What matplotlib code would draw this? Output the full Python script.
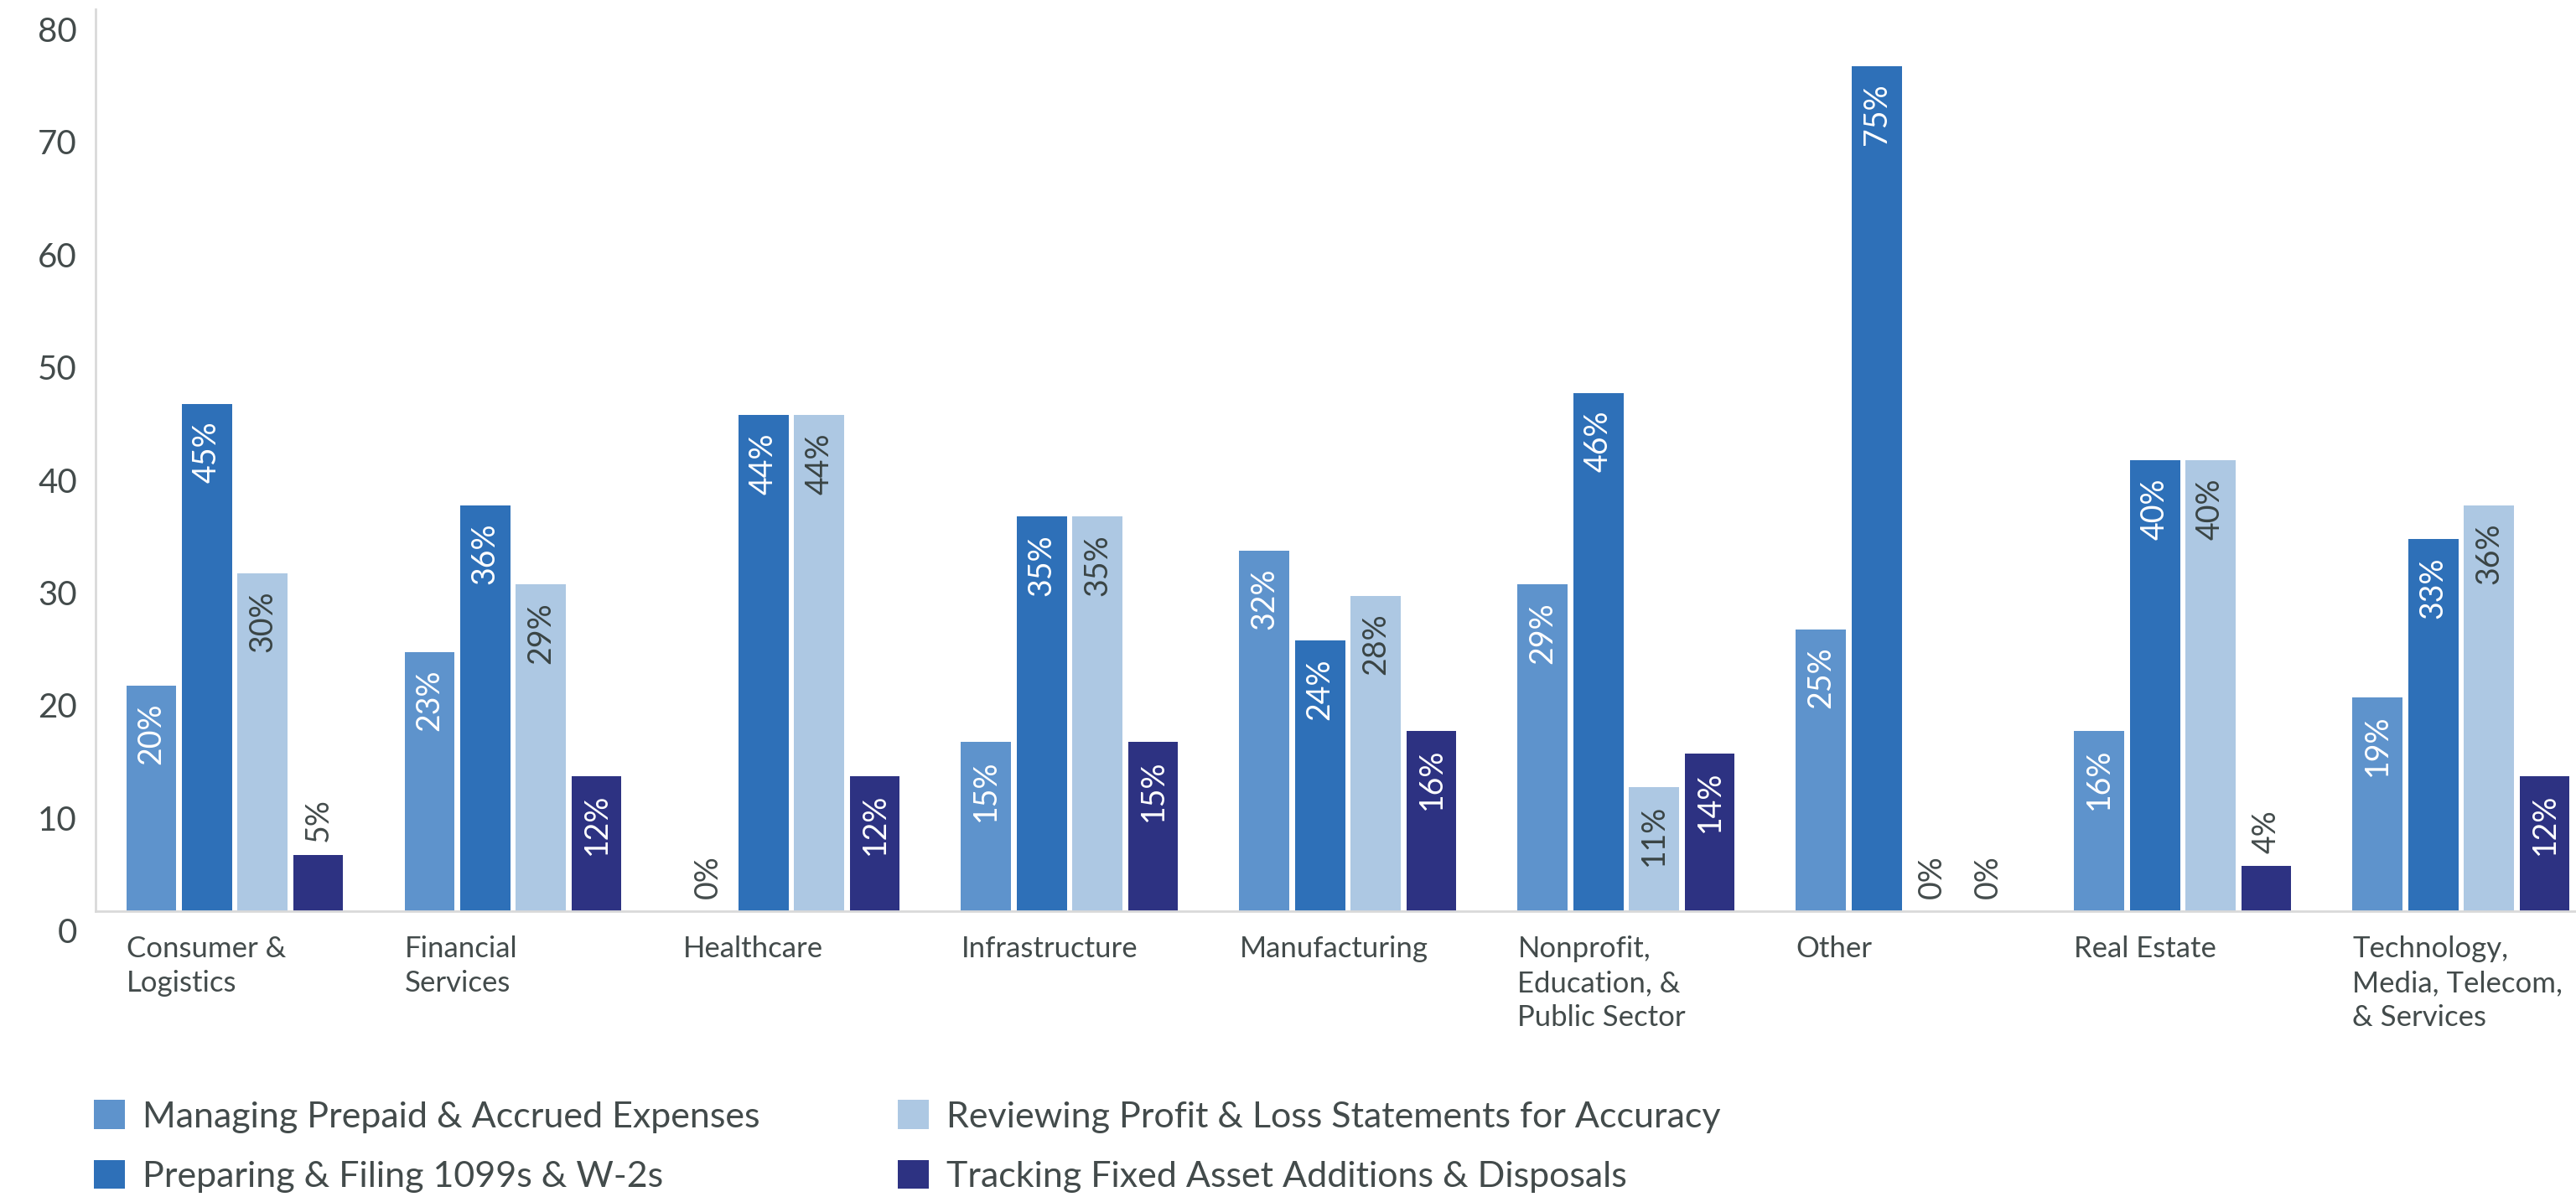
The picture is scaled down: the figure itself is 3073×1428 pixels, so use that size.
import numpy as np
import matplotlib.pyplot as plt
import matplotlib.transforms as mtransforms
from matplotlib.patches import Patch

plt.rcParams["font.family"] = ["Lato", "DejaVu Sans"]

categories = [
    "Consumer &\nLogistics",
    "Financial\nServices",
    "Healthcare",
    "Infrastructure",
    "Manufacturing",
    "Nonprofit,\nEducation, &\nPublic Sector",
    "Other",
    "Real Estate",
    "Technology,\nMedia, Telecom,\n& Services",
]
series_names = [
    "Managing Prepaid & Accrued Expenses",
    "Preparing & Filing 1099s & W-2s",
    "Reviewing Profit & Loss Statements for Accuracy",
    "Tracking Fixed Asset Additions & Disposals",
]
prepaid = [20, 23, 0, 15, 32, 29, 25, 16, 19]
filing = [45, 36, 44, 35, 24, 46, 75, 40, 33]
reviewing = [30, 29, 44, 35, 28, 11, 0, 40, 36]
tracking = [5, 12, 12, 15, 16, 14, 0, 4, 12]
series = [prepaid, filing, reviewing, tracking]

colors = ["#5E93CC", "#2E70B8", "#ADC8E3", "#2D3282"]
inside_text = ["white", "white", "#3A4444", "white"]
text_color = "#434B4B"
axis_color = "#D9D9D9"

fig = plt.figure(figsize=(30.73, 14.28), dpi=100)
ax = fig.add_axes([0.0371, 0.2388, 0.9629, 0.7532])

x = np.arange(len(categories))
step, width = 0.2, 0.18
offsets = (np.arange(4) - 1.5) * step

for k, vals in enumerate(series):
    bars = ax.bar(x + offsets[k], vals, width=width, color=colors[k], label=series_names[k])
    for rect, v in zip(bars, vals):
        cx = rect.get_x() + rect.get_width() / 2
        if v >= 10:
            ax.annotate(f"{v}%", (cx, v), xytext=(0, -15), textcoords="offset points",
                        rotation=90, ha="center", va="top", fontsize=27,
                        color=inside_text[k])
        else:
            ax.annotate(f"{v}%", (cx, v), xytext=(0, 11), textcoords="offset points",
                        rotation=90, ha="center", va="bottom", fontsize=27,
                        color=text_color)

ax.set_xlim(-0.5, 8.413)
ax.set_ylim(0, 80)
ax.set_yticks(np.arange(0, 81, 10))
ax.tick_params(axis="y", length=0, pad=16, labelsize=29, labelcolor=text_color)
shift = mtransforms.ScaledTranslation(0, -6 / 72, fig.dpi_scale_trans)
for lbl in ax.get_yticklabels():
    lbl.set_va("top")
    lbl.set_transform(lbl.get_transform() + shift)

ax.set_xticks(x + offsets[0] - width / 2)
ax.set_xticklabels(categories, ha="left", va="top", fontsize=25, color=text_color,
                   linespacing=1.35)
ax.tick_params(axis="x", length=0, pad=21)

for side in ["top", "right"]:
    ax.spines[side].set_visible(False)
for side in ["left", "bottom"]:
    ax.spines[side].set_color(axis_color)
    ax.spines[side].set_linewidth(2)

handles = [Patch(facecolor=c, edgecolor="none") for c in colors]
fig.legend(handles, series_names, ncol=2, loc="upper left",
           bbox_to_anchor=(0.0364, 0.081), frameon=False, fontsize=31,
           handlelength=0.86, handleheight=0.86, handletextpad=0.5,
           columnspacing=3.8, labelspacing=0.75, labelcolor=text_color,
           borderaxespad=0, borderpad=0)

fig.savefig("out.png", dpi=100)
